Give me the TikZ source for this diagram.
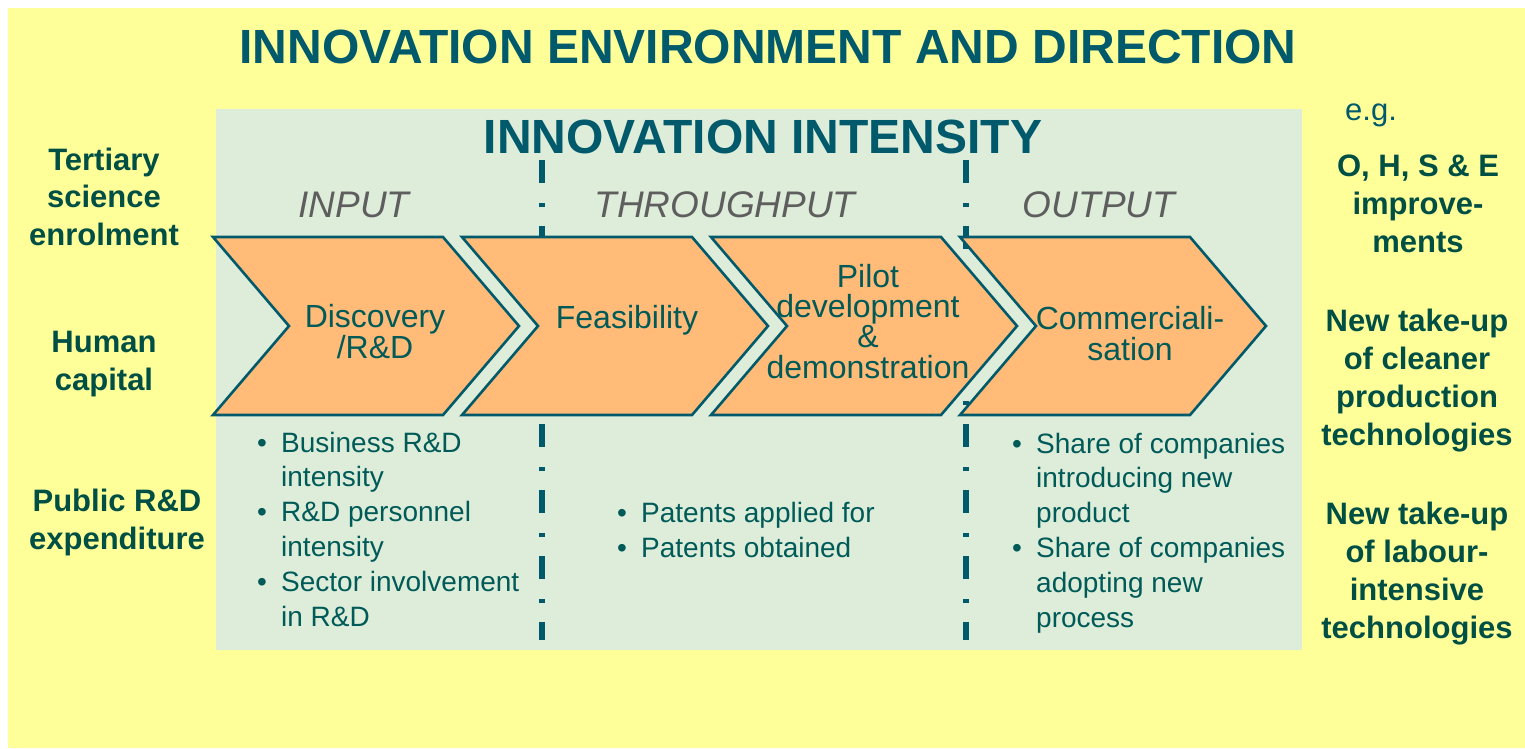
\documentclass[tikz,border=0pt]{standalone}
\usepackage{fontspec}
\setmainfont{Liberation Sans}

\definecolor{envyellow}{HTML}{FFFF99}
\definecolor{panelgreen}{HTML}{DEEDDA}
\definecolor{stagefill}{HTML}{FFBB77}
\definecolor{deepteal}{HTML}{005A6B}
\definecolor{bodyteal}{HTML}{005A58}
\definecolor{labelgreen}{HTML}{004F45}
\definecolor{phasegray}{HTML}{5E5E5E}

% bullet and continuation indent for the indicator lists
\newcommand\itembul{\makebox[24pt][l]{•}}
\newcommand\itemcont{\hspace*{24pt}}

\begin{document}
\begin{tikzpicture}[x=1pt,y=-1pt,
  bigtitle/.style={font=\fontsize{48}{58}\selectfont\bfseries, text=deepteal, inner sep=0pt, anchor=base},
  phase/.style={font=\fontsize{37}{44}\selectfont\itshape, text=phasegray, inner sep=0pt, anchor=base},
  stagebox/.style={draw=deepteal, line width=2.6pt, fill=stagefill, line join=miter},
  stagetext/.style={font=\fontsize{32}{30.3}\selectfont, text=bodyteal, align=center, inner sep=0pt, anchor=base},
  sidelabel/.style={font=\fontsize{31}{37.5}\selectfont\bfseries, text=labelgreen, align=center, inner sep=0pt, anchor=base},
  effectlabel/.style={font=\fontsize{31}{38}\selectfont\bfseries, text=labelgreen, align=center, inner sep=0pt, anchor=base},
  bulletlist/.style={font=\fontsize{28}{34.8}\selectfont, text=bodyteal, align=left, inner sep=0pt, anchor=base west},
  phaseline/.style={draw=deepteal, line width=6pt, dash pattern=on 23pt off 20pt on 4pt off 19pt}
]
\useasboundingbox (0,0) rectangle (1525,748);
\fill[white] (0,0) rectangle (1525,748);
\fill[envyellow] (8,8) rectangle (1525,748);
\fill[panelgreen] (216,109) rectangle (1302,650);

% phase separators
\coordinate (sepAtop) at (542,160);
\coordinate (sepAbot) at (542,640);
\coordinate (sepBtop) at (966,160);
\coordinate (sepBbot) at (966,640);
\draw[phaseline] (sepAtop) -- (sepAbot);
\draw[phaseline] (sepBtop) -- (sepBbot);

% stage chevrons
\foreach \x in {213,462,711,960}{
  \draw[stagebox] (\x,237) -- ++(230,0) -- ++(76,89) -- ++(-76,89) -- ++(-230,0) -- ++(76,-89) -- cycle;
}

% titles
\node[bigtitle] (envtitle) at (768,63) {INNOVATION ENVIRONMENT AND DIRECTION};
\node[bigtitle] (inttitle) at (763,153) {INNOVATION INTENSITY};

% phases
\node[phase] (input) at (354,217) {INPUT};
\node[phase] (through) at (725,217) {THROUGHPUT};
\node[phase] (output) at (1099,217) {OUTPUT};

% stage labels (multi-line nodes sit on the baseline of their last line)
\node[stagetext] (discovery) at (375,358) {Discovery\\/R\&D};
\node[stagetext] (feasibility) at (627,328) {Feasibility};
\node[stagetext] (pilot) at (868,378) {Pilot\\development\\\&\\demonstration};
\node[stagetext] (commercial) at (1130,360) {Commerciali-\\sation};

% drivers on the left
\node[sidelabel] (tertiary) at (104,245) {Tertiary\\science\\enrolment};
\node[sidelabel] (human) at (104,390) {Human\\capital};
\node[sidelabel] (public) at (117,549) {Public R\&D\\expenditure};

% effects on the right
\node[font=\fontsize{31}{38}\selectfont, text=deepteal, inner sep=0pt, anchor=base] (eg) at (1371,120) {e.g.};
\node[effectlabel] (ohse) at (1418,252) {O, H, S \& E\\improve-\\ments};
\node[effectlabel] (cleaner) at (1417,445) {New take-up\\of cleaner\\production\\technologies};
\node[effectlabel] (labour) at (1417,638) {New take-up\\of labour-\\intensive\\technologies};

% indicator lists
\node[bulletlist] (inputlist) at (257,626) {\itembul Business R\&D\\\itemcont intensity\\\itembul R\&D personnel\\\itemcont intensity\\\itembul Sector involvement\\\itemcont in R\&D};
\node[bulletlist] (throughlist) at (617,557) {\itembul Patents applied for\\\itembul Patents obtained};
\node[bulletlist] (outputlist) at (1012,627) {\itembul Share of companies\\\itemcont introducing new\\\itemcont product\\\itembul Share of companies\\\itemcont adopting new\\\itemcont process};
\end{tikzpicture}
\end{document}
